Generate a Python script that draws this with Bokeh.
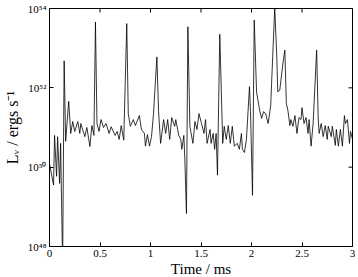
import math
from bokeh.plotting import figure
from bokeh.models import Range1d, FixedTicker, CustomJSTickFormatter
from bokeh.embed import file_html
from bokeh.resources import INLINE

# Time in ms
time_ms = [0.00, 0.04, 0.05, 0.07, 0.08, 0.10, 0.11, 0.13, 0.145, 0.16, 0.19, 0.21, 0.23, 0.25,
           0.28, 0.30, 0.31, 0.35, 0.37, 0.40, 0.42, 0.44, 0.455, 0.47, 0.49, 0.51, 0.535, 0.56,
           0.59, 0.61, 0.65, 0.67, 0.69, 0.71, 0.735, 0.765, 0.78, 0.80, 0.83, 0.85, 0.89, 0.91,
           0.94, 0.95, 0.97, 0.99, 1.01, 1.03, 1.063, 1.08, 1.10, 1.13, 1.15, 1.17, 1.19, 1.21,
           1.24, 1.25, 1.28, 1.30, 1.31, 1.33, 1.34, 1.356, 1.37, 1.39, 1.42, 1.44, 1.46, 1.48,
           1.505, 1.53, 1.545, 1.56, 1.59, 1.60, 1.62, 1.635, 1.65, 1.663, 1.686, 1.715, 1.73,
           1.75, 1.77, 1.79, 1.81, 1.83, 1.86, 1.88, 1.90, 1.91, 1.93, 1.95, 1.98, 1.99, 2.01,
           2.027, 2.05, 2.08, 2.10, 2.12, 2.14, 2.165, 2.19, 2.21, 2.23, 2.25, 2.26, 2.28, 2.31,
           2.33, 2.345, 2.36, 2.38, 2.39, 2.41, 2.43, 2.45, 2.47, 2.49, 2.50, 2.52, 2.54, 2.56,
           2.57, 2.59, 2.61, 2.645, 2.66, 2.67, 2.69, 2.71, 2.73, 2.75, 2.76, 2.79, 2.80, 2.83,
           2.84, 2.86, 2.88, 2.90, 2.92, 2.93, 2.95, 2.97, 2.98, 3.00]

# log10 of luminosity (ergs/s)
log_lum = [50.09, 49.55, 50.80, 49.77, 50.77, 49.59, 50.60, 47.50, 52.68, 50.65, 51.66, 50.85, 51.15, 50.90,
           51.15, 50.85, 51.10, 50.77, 51.00, 50.52, 51.05, 50.80, 53.66, 51.10, 50.90, 51.20, 51.00, 51.10,
           50.85, 51.02, 50.80, 50.90, 50.70, 51.05, 50.68, 53.62, 51.35, 51.03, 51.20, 51.05, 51.30, 50.95,
           50.85, 50.53, 50.82, 50.53, 50.77, 51.35, 52.78, 51.40, 50.60, 51.20, 50.85, 51.20, 50.70, 51.25,
           51.03, 51.20, 50.80, 50.70, 50.45, 50.80, 50.20, 48.83, 53.54, 51.03, 50.60, 51.15, 50.95, 51.35,
           51.10, 50.85, 51.20, 50.60, 50.95, 50.60, 50.85, 50.45, 50.85, 49.80, 53.35, 50.60, 51.03,
           50.70, 51.05, 50.60, 51.03, 50.53, 50.60, 50.45, 50.85, 50.45, 50.37, 50.70, 52.03, 51.40, 49.29,
           53.71, 51.90, 51.44, 51.23, 51.40, 51.35, 51.10, 51.55, 52.80, 54.00, 52.80, 51.90, 51.94, 52.60,
           52.95, 51.60, 51.44, 51.05, 51.20, 51.03, 51.30, 50.85, 51.25, 51.20, 51.50, 51.10, 51.25, 50.85,
           51.20, 50.53, 51.10, 52.95, 51.25, 50.85, 51.10, 50.77, 51.05, 50.70, 51.03, 50.77, 51.03, 50.55,
           50.95, 50.53, 50.95, 50.53, 51.30, 51.10, 51.20, 50.60, 50.90, 50.70]

x_ticks = [0, 0.5, 1, 1.5, 2, 2.5, 3]
y_ticks = [1e48, 1e50, 1e52, 1e54]

lum = [10 ** v for v in log_lum]

FONT = "Liberation Serif"

p = figure(frame_width=303, frame_height=238, output_backend="svg", toolbar_location=None,
           y_axis_type="log", x_range=Range1d(0, 3), y_range=Range1d(1e48, 1e54),
           min_border_left=42, min_border_right=3, min_border_top=8, min_border_bottom=0,
           background_fill_color="white", border_fill_color="white")

p.line(time_ms, lum, line_color="black", line_width=0.8)

# inward tick marks on the top and right edges (clipped to the frame)
p.scatter(x_ticks, [y_ticks[-1]] * len(x_ticks), marker="dash", angle=math.pi / 2,
          size=8, line_color="black", line_width=1)
p.scatter([x_ticks[-1]] * len(y_ticks), y_ticks, marker="dash",
          size=8, line_color="black", line_width=1)

p.grid.visible = False
p.outline_line_color = "black"
p.outline_line_width = 1

sup_js = """
const sup = {'0':'\u2070','1':'\u00b9','2':'\u00b2','3':'\u00b3','4':'\u2074','5':'\u2075','6':'\u2076','7':'\u2077','8':'\u2078','9':'\u2079','-':'\u207b'};
const e = Math.round(Math.log10(tick));
return '10' + String(e).split('').map(c => sup[c]).join('');
"""

xa = p.xaxis[0]
xa.ticker = FixedTicker(ticks=x_ticks)
xa.axis_label = "Time / ms"
ya = p.yaxis[0]
ya.ticker = FixedTicker(ticks=y_ticks)
ya.formatter = CustomJSTickFormatter(code=sup_js)
ya.axis_label = "L\u1d65 / ergs s\u207b\u00b9"

for ax in (xa, ya):
    ax.major_tick_in = 4
    ax.major_tick_out = 0
    ax.minor_tick_line_color = None
    ax.axis_line_color = "black"
    ax.major_tick_line_color = "black"
    ax.major_label_text_font = FONT
    ax.major_label_text_font_size = "11px"
    ax.major_label_text_color = "black"
    ax.axis_label_text_font = FONT
    ax.axis_label_text_font_size = "15px"
    ax.axis_label_text_font_style = "normal"
    ax.axis_label_text_color = "black"
    ax.major_label_standoff = 3
    ax.axis_label_standoff = 1

ya.axis_label_text_font_size = "16px"
ya.axis_label_standoff = 4

open("out.html", "w").write(file_html(p, INLINE))
